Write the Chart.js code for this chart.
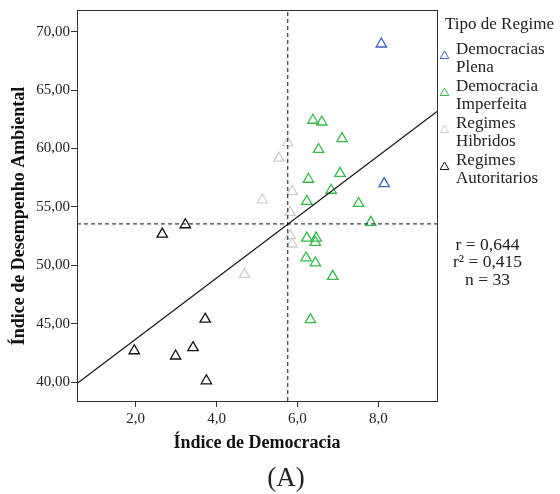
<!DOCTYPE html>
<html>
<head>
<meta charset="utf-8">
<script src="https://cdn.jsdelivr.net/npm/chart.js@4"></script>
<style>
  body { margin: 0; background: #fff; }
  canvas { display: block; }
</style>
</head>
<body>
<canvas id="scatterChart" width="560" height="494"></canvas>
<script>
// Data
const plenaX = [8.07, 8.14];
const plenaY = [68.94, 57.0];

const imperfeitaX = [6.38, 6.60, 7.10, 6.52, 6.27, 7.05, 6.83, 6.23, 7.51, 7.81, 6.23, 6.46, 6.44, 6.21, 6.44, 6.87, 6.32];
const imperfeitaY = [62.42, 62.27, 60.85, 59.92, 57.37, 57.87, 56.43, 55.47, 55.30, 53.68, 52.34, 52.34, 51.97, 50.64, 50.21, 49.06, 45.36];

const hibridosX = [5.76, 5.54, 5.87, 5.13, 5.82, 5.82, 5.87, 4.69];
const hibridosY = [60.49, 59.18, 56.32, 55.61, 54.53, 52.55, 51.83, 49.23];

const autoritariosX = [3.23, 2.66, 3.72, 1.97, 2.99, 3.42, 3.75];
const autoritariosY = [53.48, 52.68, 45.40, 42.70, 42.25, 42.96, 40.13];

const xTicks = [2, 4, 6, 8];
const yTicks = [40, 45, 50, 55, 60, 65, 70];

const meanX = 5.76;
const meanY = 53.55;
const fitIntercept = 38.45;
const fitSlope = 2.617;

const legendTitle = 'Tipo de Regime';
const legendItems = [
  { lines: ['Democracias', 'Plena'], color: '#3f5fc4' },
  { lines: ['Democracia', 'Imperfeita'], color: '#35bb4b' },
  { lines: ['Regimes', 'Hibridos'], color: '#cfcfcf' },
  { lines: ['Regimes', 'Autoritarios'], color: '#111111' }
];
const statLines = ['r = 0,644', 'r\u00b2 = 0,415', 'n = 33'];
const yTitle = 'Índice de Desempenho Ambiental';

const X_MIN = 0.555, X_MAX = 9.445;
const Y_MIN = 38.4, Y_MAX = 71.85;

const SERIF = "'Liberation Serif', 'Times New Roman', serif";
Chart.defaults.font.family = SERIF;
Chart.defaults.color = '#222';

function toPoints(xs, ys) {
  return xs.map((x, i) => ({ x, y: ys[i] }));
}

function groupDataset(xs, ys, color) {
  return {
    data: toPoints(xs, ys),
    pointStyle: 'triangle',
    pointRadius: 6,
    pointBorderWidth: 1.3,
    borderColor: color,
    backgroundColor: 'rgba(0,0,0,0)',
    showLine: false
  };
}

// Box, y title, legend, stats, caption
const extrasPlugin = {
  id: 'extras',
  afterDraw(chart) {
    const { ctx, chartArea } = chart;
    ctx.save();
    ctx.strokeStyle = '#333';
    ctx.lineWidth = 1;
    ctx.strokeRect(chartArea.left + 0.5, chartArea.top + 0.5,
      chartArea.right - chartArea.left, chartArea.bottom - chartArea.top);

    // y axis title (sits a bit below the plot centre in the original)
    ctx.save();
    ctx.translate(19, 216);
    ctx.rotate(-Math.PI / 2);
    ctx.textAlign = 'center';
    ctx.textBaseline = 'middle';
    ctx.fillStyle = '#111';
    ctx.font = `bold 18px ${SERIF}`;
    ctx.fillText(yTitle, 0, 0);
    ctx.restore();

    ctx.fillStyle = '#222';
    ctx.textBaseline = 'middle';
    ctx.textAlign = 'left';
    ctx.font = `17px ${SERIF}`;
    ctx.fillText(legendTitle, 445, 25);

    let y = 50;
    legendItems.forEach(item => {
      const tx = 444.5, ty = y + 6, r = 5;
      ctx.beginPath();
      ctx.moveTo(tx, ty - r);
      ctx.lineTo(tx + r * 0.866, ty + r / 2);
      ctx.lineTo(tx - r * 0.866, ty + r / 2);
      ctx.closePath();
      ctx.strokeStyle = item.color;
      ctx.lineWidth = 1;
      ctx.stroke();
      ctx.fillStyle = '#222';
      ctx.fillText(item.lines[0], 456, y);
      ctx.fillText(item.lines[1], 456, y + 18);
      y += 37;
    });

    ctx.textAlign = 'center';
    ctx.font = `17.5px ${SERIF}`;
    statLines.forEach((s, i) => ctx.fillText(s, 487.5, 245 + i * 17.5));

    ctx.font = `27px ${SERIF}`;
    ctx.fillText('(A)', 286, 479);
    ctx.restore();
  }
};

const ctx = document.getElementById('scatterChart');

new Chart(ctx, {
  type: 'scatter',
  data: {
    datasets: [
      {
        type: 'line',
        data: [{ x: X_MIN, y: fitIntercept + fitSlope * X_MIN }, { x: X_MAX, y: fitIntercept + fitSlope * X_MAX }],
        borderColor: '#111',
        borderWidth: 1.1,
        pointRadius: 0
      },
      {
        type: 'line',
        data: [{ x: meanX, y: Y_MIN }, { x: meanX, y: Y_MAX }],
        borderColor: '#111',
        borderWidth: 1,
        borderDash: [4, 3],
        pointRadius: 0
      },
      {
        type: 'line',
        data: [{ x: X_MIN, y: meanY }, { x: X_MAX, y: meanY }],
        borderColor: '#111',
        borderWidth: 1,
        borderDash: [4, 3],
        pointRadius: 0
      },
      groupDataset(plenaX, plenaY, legendItems[0].color),
      groupDataset(imperfeitaX, imperfeitaY, legendItems[1].color),
      groupDataset(hibridosX, hibridosY, legendItems[2].color),
      groupDataset(autoritariosX, autoritariosY, legendItems[3].color)
    ]
  },
  options: {
    responsive: false,
    animation: false,
    layout: { padding: { top: 10, right: 123, bottom: 40, left: 0 } },
    plugins: {
      legend: { display: false },
      tooltip: { enabled: false }
    },
    scales: {
      x: {
        type: 'linear',
        min: X_MIN,
        max: X_MAX,
        afterBuildTicks: s => { s.ticks = xTicks.map(v => ({ value: v })); },
        afterFit: s => { s.height = 53; },
        grid: { drawOnChartArea: false, tickLength: 6, color: '#333' },
        border: { color: '#333' },
        ticks: {
          color: '#222',
          font: { size: 15 },
          padding: 3,
          maxRotation: 0,
          callback: v => v.toFixed(1).replace('.', ',')
        },
        title: {
          display: true,
          text: 'Índice de Democracia',
          font: { size: 18, weight: 'bold' },
          color: '#111',
          padding: { top: 2, bottom: 0 }
        }
      },
      y: {
        type: 'linear',
        min: Y_MIN,
        max: Y_MAX,
        afterBuildTicks: s => { s.ticks = yTicks.map(v => ({ value: v })); },
        afterFit: s => { s.width = 77; },
        grid: { drawOnChartArea: false, tickLength: 6, color: '#333' },
        border: { color: '#333' },
        ticks: {
          color: '#222',
          font: { size: 15 },
          padding: 1,
          callback: v => v.toFixed(2).replace('.', ',')
        }
      }
    }
  },
  plugins: [extrasPlugin]
});
</script>
</body>
</html>
